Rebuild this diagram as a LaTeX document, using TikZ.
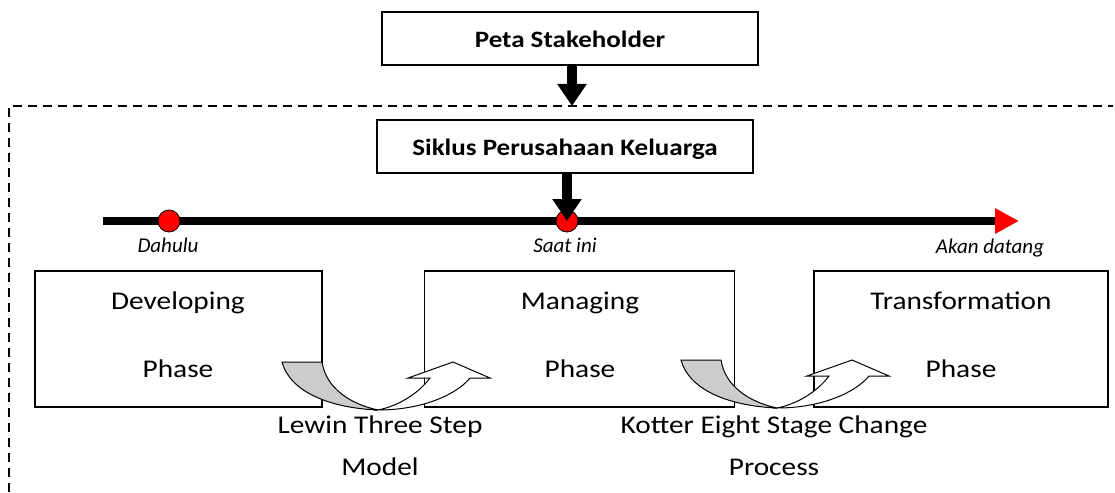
\documentclass[tikz,border=0pt]{standalone}
\usepackage{fontspec}
\setmainfont{Carlito}
\newfontfamily\wfont[FakeStretch=1.15]{Carlito}
\usetikzlibrary{arrows.meta}
\begin{document}
\begin{tikzpicture}[x=1pt,y=-1pt,
  topbox/.style={draw,line width=1.2pt},
  toptext/.style={font=\wfont\fontsize{23.5}{26}\selectfont\bfseries,inner sep=0pt,anchor=base},
  phasebox/.style={draw,line width=1.1pt},
  big/.style={font=\wfont\fontsize{25.5}{30}\selectfont,inner sep=0pt,anchor=base},
  lbl/.style={font=\fontsize{21}{24}\selectfont\itshape,inner sep=0pt,anchor=base},
  dot/.style={circle,draw,fill=red,line width=0.8pt,minimum size=22pt,inner sep=0pt},
  blockarrow/.style={line width=10pt,-{Triangle[length=22pt,width=28pt]}},
  bandgray/.style={draw,line width=1pt,fill=black!20},
  bandwhite/.style={draw,line width=1pt,fill=white},
  frameline/.style={dash pattern=on 9pt off 6pt,line width=1.3pt}
]
\useasboundingbox (0,0) rectangle (1115,492);

% dashed frame
\coordinate (dTL) at (9,106);
\coordinate (dTR) at (1113,106);
\coordinate (dBL) at (9,492);
\draw[frameline] (dBL) -- (dTL) -- (dTR);

% top boxes
\node[topbox,minimum width=376pt,minimum height=53pt] (peta) at (570,38.5) {};
\node[toptext] (petat) at (570,48) {Peta Stakeholder};
\node[topbox,minimum width=376pt,minimum height=53pt] (siklus) at (565,146.5) {};
\node[toptext] (siklust) at (565,155) {Siklus Perusahaan Keluarga};
\coordinate (dashhit) at (572,106);
\draw[blockarrow] (peta.south -| dashhit) -- (dashhit);

% timeline
\coordinate (tl0) at (103,221);
\coordinate (tl1) at (1019,221);
\draw[line width=8pt,-{Triangle[length=24pt,width=24pt,fill=red,color=red]}] (tl0) -- (tl1);
\node[dot] (past) at (169,221) {};
\node[dot] (now) at (567,221) {};
\draw[blockarrow] (siklus.south -| now) -- (now.center);
\node[lbl] (lpast) at (168,252) {Dahulu};
\node[lbl] (lnow) at (565,252) {Saat ini};
\node[lbl] (lfut) at (990,253) {Akan datang};

% phase boxes
\node[phasebox,minimum width=287pt,minimum height=136pt] (dev) at (178.5,339) {};
\node[phasebox,minimum width=310pt,minimum height=136pt] (man) at (579.5,339) {};
\node[phasebox,minimum width=294pt,minimum height=136pt] (tra) at (961,339) {};
\node[big] (dev1) at (178,309) {Developing};
\node[big] (dev2) at (178,377) {Phase};
\node[big] (man1) at (580,309) {Managing};
\node[big] (man2) at (580,377) {Phase};
\node[big] (tra1) at (961,309) {Transformation};
\node[big] (tra2) at (961,377) {Phase};

% curved U-turn arrows
\foreach \dx/\dy in {0/0,399/-2}{
\begin{scope}[shift={(\dx,\dy)}]
\draw[bandwhite] (378,410) .. controls (420,410) and (455,396) .. (470,378)
  -- (490,378) -- (453,362) -- (408,378) -- (430,378)
  .. controls (418,394) and (398,406) .. (378,410) -- cycle;
\draw[bandgray] (282,362) -- (322,362) .. controls (326,388) and (350,404) .. (378,410)
  .. controls (330,408) and (290,392) .. (282,362) -- cycle;
\end{scope}
}

\node[big] (lew1) at (380,433) {Lewin Three Step};
\node[big] (lew2) at (380,475) {Model};
\node[big] (kot1) at (774,433) {Kotter Eight Stage Change};
\node[big] (kot2) at (774,475) {Process};
\end{tikzpicture}
\end{document}
